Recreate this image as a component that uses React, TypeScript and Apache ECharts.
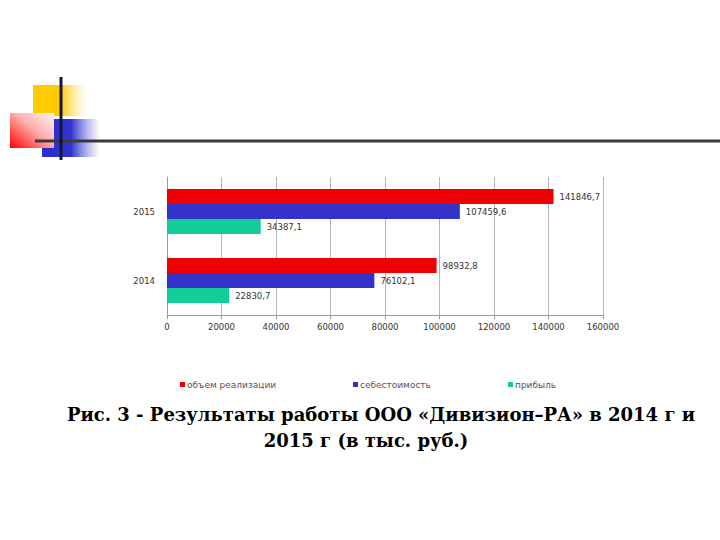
import React, { useEffect, useRef } from "react";
import * as echarts from "echarts";

const categories = ["2014", "2015"];
const salesValues = [98932.8, 141846.7];
const costValues = [76102.1, 107459.6];
const profitValues = [22830.7, 34387.1];
const seriesNames = ["объем реализации", "себестоимость", "прибыль"];
const xTicks = { min: 0, max: 160000, interval: 20000 };
const titleLine1 = "Рис. 3 - Результаты работы ООО «Дивизион–РА» в 2014 г и";
const titleLine2 = "2015 г (в тыс. руб.)";

const fmt = (v: number) => v.toFixed(1).replace(".", ",");

export default function App() {
  const ref = useRef<HTMLDivElement>(null);
  useEffect(() => {
    if (!ref.current) return;
    const chart = echarts.init(ref.current, undefined, { renderer: "svg" });
    const label = {
      show: true,
      position: "right" as const,
      distance: 6,
      fontFamily: "DejaVu Sans",
      fontSize: 8.5,
      color: "#333",
      formatter: (p: any) => fmt(p.value),
    };
    const legendBase = {
      top: 375,
      itemWidth: 5,
      itemHeight: 5,
      itemGap: 0,
      icon: "rect",
      textStyle: { fontFamily: "DejaVu Sans", fontSize: 9, color: "#555", padding: [0, 0, 0, -3] },
    };
    chart.setOption({
      animation: false,
      backgroundColor: "#fff",
      grid: { left: 167, right: 117, top: 177, bottom: 225 },
      legend: [
        { ...legendBase, left: 175, data: [seriesNames[0]] },
        { ...legendBase, left: 348, data: [seriesNames[1]] },
        { ...legendBase, left: 503, data: [seriesNames[2]] },
      ],
      xAxis: {
        type: "value",
        min: xTicks.min,
        max: xTicks.max,
        interval: xTicks.interval,
        axisLine: { show: true, lineStyle: { color: "#9a9a9a" } },
        axisTick: { show: true, length: 4, lineStyle: { color: "#9a9a9a" } },
        splitLine: { show: true, lineStyle: { color: "#b5b5b5" } },
        axisLabel: {
          fontFamily: "DejaVu Sans",
          fontSize: 8.5,
          color: "#333",
          margin: 7,
          formatter: (v: number) => String(v),
        },
      },
      yAxis: {
        type: "category",
        data: categories,
        axisLine: { show: true, lineStyle: { color: "#9a9a9a" } },
        axisTick: { show: false },
        axisLabel: { fontFamily: "DejaVu Sans", fontSize: 8.5, color: "#333", margin: 12 },
      },
      series: [
        {
          name: seriesNames[0],
          type: "bar",
          data: salesValues,
          itemStyle: { color: "#EE0000" },
          barWidth: 15,
          barGap: "0%",
          label,
        },
        {
          name: seriesNames[1],
          type: "bar",
          data: costValues,
          itemStyle: { color: "#3333CC" },
          barWidth: 15,
          barGap: "0%",
          label,
        },
        {
          name: seriesNames[2],
          type: "bar",
          data: profitValues,
          itemStyle: { color: "#12CC9A" },
          barWidth: 15,
          barGap: "0%",
          label,
        },
      ],
      graphic: [
        {
          type: "rect",
          shape: { x: 33, y: 85, width: 55, height: 31 },
          style: {
            fill: new echarts.graphic.LinearGradient(0, 0, 1, 0, [
              { offset: 0, color: "#FFCC00" },
              { offset: 0.5, color: "#FFCC00" },
              { offset: 1, color: "rgba(255,230,150,0)" },
            ]),
          },
        },
        {
          type: "rect",
          shape: { x: 42, y: 119, width: 58, height: 38 },
          style: {
            fill: new echarts.graphic.LinearGradient(0, 0, 1, 0, [
              { offset: 0, color: "#2B2BCC" },
              { offset: 0.5, color: "#3333CC" },
              { offset: 1, color: "rgba(120,120,230,0)" },
            ]),
          },
        },
        {
          type: "rect",
          shape: { x: 10, y: 113, width: 44, height: 35 },
          style: {
            fill: new echarts.graphic.LinearGradient(0, 1, 1, 0, [
              { offset: 0, color: "#FF0000" },
              { offset: 0.55, color: "#FFB0B0" },
              { offset: 1, color: "#FFF4F4" },
            ]),
          },
        },
        {
          type: "line",
          shape: { x1: 35, y1: 141, x2: 720, y2: 141 },
          style: { stroke: "#3a3a3a", lineWidth: 3 },
        },
        {
          type: "line",
          shape: { x1: 61, y1: 77, x2: 61, y2: 160 },
          style: { stroke: "#151535", lineWidth: 3 },
        },
        {
          type: "text",
          x: 381,
          y: 414,
          style: {
            text: titleLine1,
            fontFamily: "DejaVu Serif",
            fontWeight: "bold",
            fontSize: 18,
            fill: "#000",
            align: "center",
            verticalAlign: "middle",
          },
        },
        {
          type: "text",
          x: 366,
          y: 440,
          style: {
            text: titleLine2,
            fontFamily: "DejaVu Serif",
            fontWeight: "bold",
            fontSize: 18,
            fill: "#000",
            align: "center",
            verticalAlign: "middle",
          },
        },
      ],
    });
    return () => chart.dispose();
  }, []);
  return (
    <div
      ref={ref}
      style={{ position: "fixed", left: 0, top: 0, width: 720, height: 540 }}
    />
  );
}
